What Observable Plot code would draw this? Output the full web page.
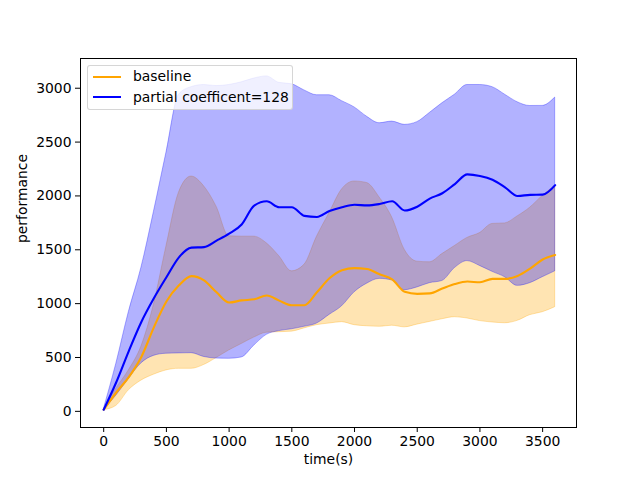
<!DOCTYPE html>
<html>
<head>
<meta charset="utf-8">
<script src="https://cdn.jsdelivr.net/npm/d3@7"></script>
<script src="https://cdn.jsdelivr.net/npm/@observablehq/plot@0.6"></script>
<style>
  body { margin: 0; background: #fff; }
  #wrap { position: relative; width: 640px; height: 480px; font-family: "DejaVu Sans", sans-serif; }
  #legend { position: absolute; left: 87px; top: 65px; width: 206px; height: 45px; box-sizing: border-box;
            background: rgba(255,255,255,0.8); border: 1px solid rgba(204,204,204,0.8); border-radius: 3px;
            font-size: 13.9px; color: #000; }
  .row { position: absolute; left: 0; height: 20px; }
  .swatch { position: absolute; left: 5px; width: 28px; height: 2px; }
  .lab { position: absolute; left: 45px; white-space: nowrap; line-height: 20px; }
</style>
</head>
<body>
<div id="wrap"><div id="legend"></div></div>
<script>
const time = [0,100,200,300,400,500,600,700,800,900,1000,1100,1200,1300,1400,1500,1600,1700,1800,1900,2000,2100,2200,2300,2400,2500,2600,2700,2800,2900,3000,3100,3200,3300,3400,3500,3600];

const baselineMean = [15,175,318,505,780,1020,1170,1255,1215,1105,1010,1030,1040,1075,1028,985,985,1105,1235,1310,1330,1322,1272,1225,1110,1091,1095,1140,1182,1205,1198,1230,1230,1257,1325,1410,1452];
const baselineHigh = [15,210,380,600,990,1530,2030,2180,2090,1900,1625,1622,1622,1560,1440,1300,1360,1620,1840,2060,2134,2120,1985,1800,1500,1390,1384,1460,1535,1610,1655,1740,1745,1810,1890,2000,2094];
const baselineLow  = [10,50,195,285,340,380,395,395,430,495,565,625,685,730,735,740,770,800,815,828,800,790,785,795,780,805,830,855,874,862,838,825,818,840,893,920,967];

const partialMean = [15,270,560,830,1050,1245,1430,1520,1525,1585,1650,1735,1910,1950,1895,1895,1815,1805,1860,1895,1918,1912,1925,1950,1865,1900,1975,2025,2110,2200,2185,2150,2080,2000,2010,2012,2100];
const partialHigh = [15,440,920,1330,1850,2400,2940,3010,3030,3020,3030,3055,3090,3110,3050,3037,2980,2935,2935,2880,2822,2735,2675,2690,2660,2685,2770,2860,2940,3030,3030,3010,2940,2870,2835,2836,2913];
const partialLow  = [10,145,300,445,515,535,538,540,505,490,488,500,610,710,745,762,785,815,895,975,1105,1185,1230,1215,1125,1150,1190,1210,1330,1395,1350,1295,1245,1165,1190,1245,1300];

const xTicks = [0,500,1000,1500,2000,2500,3000,3500];
const yTicks = [0,500,1000,1500,2000,2500,3000];

const seriesNames = ["baseline", "partial coefficent=128"];
const seriesColors = ["orange", "blue"];

const baseline = time.map((t, i) => ({t, mean: baselineMean[i], lo: baselineLow[i], hi: baselineHigh[i]}));
const partial  = time.map((t, i) => ({t, mean: partialMean[i], lo: partialLow[i], hi: partialHigh[i]}));

const chart = Plot.plot({
  width: 640,
  height: 480,
  marginLeft: 80,
  marginRight: 64,
  marginTop: 58,
  marginBottom: 53,
  style: {fontFamily: "DejaVu Sans", fontSize: "13.9px", background: "white", color: "black"},
  x: {domain: [-185, 3770]},
  y: {domain: [-150, 3276]},
  marks: [
    Plot.areaY(baseline, {x: "t", y1: "lo", y2: "hi", curve: "monotone-x", fill: seriesColors[0], fillOpacity: 0.3, stroke: seriesColors[0], strokeOpacity: 0.3, strokeWidth: 1}),
    Plot.areaY(partial, {x: "t", y1: "lo", y2: "hi", curve: "monotone-x", fill: seriesColors[1], fillOpacity: 0.3, stroke: seriesColors[1], strokeOpacity: 0.3, strokeWidth: 1}),
    Plot.line(baseline, {x: "t", y: "mean", curve: "monotone-x", stroke: seriesColors[0], strokeWidth: 2.1}),
    Plot.line(partial, {x: "t", y: "mean", curve: "monotone-x", stroke: seriesColors[1], strokeWidth: 2.1}),
    Plot.axisX({ticks: xTicks, tickSize: 5, tickPadding: 4, tickFormat: d => String(d), label: null, fontSize: "13.9px", stroke: "black"}),
    Plot.axisY({ticks: yTicks, tickSize: 5, tickPadding: 4, tickFormat: d => String(d), label: null, fontSize: "13.9px", stroke: "black"}),
    Plot.text(["time(s)"], {frameAnchor: "bottom", dy: 36, fontSize: 13.9, fill: "black"}),
    Plot.text(["performance"], {frameAnchor: "left", dx: -58, rotate: -90, fontSize: 13.9, fill: "black"}),
    Plot.frame({stroke: "black", strokeWidth: 1})
  ]
});

const wrap = document.getElementById("wrap");
wrap.insertBefore(chart, wrap.firstChild);

const legend = document.getElementById("legend");
seriesNames.forEach((name, i) => {
  const row = document.createElement("div");
  row.className = "row";
  row.style.top = (i === 0 ? 0 : 20.6) + "px";
  row.style.width = "100%";
  const sw = document.createElement("div");
  sw.className = "swatch";
  sw.style.background = seriesColors[i];
  sw.style.top = "9.5px";
  const lab = document.createElement("div");
  lab.className = "lab";
  lab.textContent = name;
  lab.style.top = "0px";
  row.appendChild(sw);
  row.appendChild(lab);
  legend.appendChild(row);
});
</script>
</body>
</html>
